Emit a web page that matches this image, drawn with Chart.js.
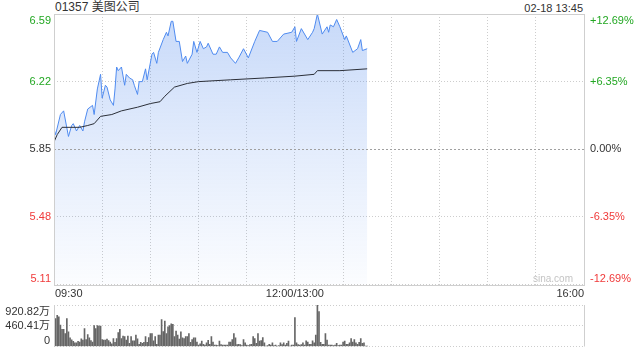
<!DOCTYPE html>
<html lang="zh-CN">
<head>
  <meta charset="utf-8">
  <title>01357 美图公司 分时走势</title>
  <script src="https://cdn.jsdelivr.net/npm/chart.js@4.4.3/dist/chart.umd.min.js"></script>
  <style>
    html, body {
      margin: 0;
      padding: 0;
      background: #fff;
    }

    body {
      position: relative;
      width: 640px;
      height: 360px;
      overflow: hidden;
      font-family: Arial, "Liberation Sans", "Noto Sans CJK SC", sans-serif;
    }

    #priceChart { position: absolute; left: 0; top: 0; }
    #volumeChart { position: absolute; left: 0; top: 300px; }

    .stock-title {
      position: absolute;
      left: 55px;
      top: 0;
      font-size: 12px;
      line-height: 14px;
      color: #333;
    }

    .stock-time {
      position: absolute;
      right: 57px;
      top: 1px;
      font-size: 11px;
      line-height: 14px;
      color: #333;
    }
  </style>
</head>
<body>
  <div class="stock-title">01357 美图公司</div>
  <div class="stock-time">02-18 13:45</div>
  <canvas id="priceChart" width="640" height="300"></canvas>
  <canvas id="volumeChart" width="640" height="60"></canvas>

  <script>
    // minutes since 09:30 (lunch break removed, 330 = 16:00)
    const priceMinutes = [0, 1, 4, 6, 9, 11, 12, 14, 16, 18, 19, 21, 24, 25, 27, 29, 30, 32, 33, 35,
      37, 38, 39, 40, 42, 44, 45, 47, 49, 50, 52, 53, 55, 57, 58, 61, 62, 64, 65, 68,
      70, 71, 73, 74, 76, 78, 80, 82, 83, 86, 87, 89, 91, 93, 95, 96, 99, 101, 103, 105,
      108, 110, 113, 115, 118, 121, 125, 128, 133, 136, 139, 143, 148, 150, 151, 154, 158, 161, 162, 164,
      167, 170, 171, 172, 174, 176, 178, 181, 182, 186, 189, 191, 192, 195];
    const prices = [5.96, 5.93, 6.04, 6.06, 5.92, 5.98, 5.99, 5.95, 5.98, 5.95, 6.00, 6.07, 6.09, 6.04, 6.18, 6.26, 6.13, 6.20, 6.19, 6.12,
      6.09, 6.18, 6.30, 6.28, 6.30, 6.20, 6.26, 6.24, 6.23, 6.20, 6.15, 6.22, 6.22, 6.29, 6.23, 6.37, 6.38, 6.32, 6.38, 6.45,
      6.49, 6.47, 6.55, 6.55, 6.44, 6.44, 6.33, 6.36, 6.32, 6.37, 6.44, 6.38, 6.44, 6.40, 6.41, 6.43, 6.37, 6.37, 6.41, 6.38,
      6.38, 6.35, 6.32, 6.35, 6.40, 6.35, 6.44, 6.50, 6.49, 6.44, 6.44, 6.48, 6.49, 6.52, 6.44, 6.51, 6.45, 6.49, 6.51, 6.59,
      6.48, 6.52, 6.49, 6.53, 6.52, 6.56, 6.52, 6.45, 6.47, 6.38, 6.40, 6.45, 6.39, 6.40];

    const avgMinutes = [0, 2, 5, 10, 16, 21, 25, 29, 36, 42, 52, 60, 66, 69, 75, 83, 90, 110, 131, 150, 162, 164, 178, 195];
    const avgPrices = [5.89, 5.93, 5.97, 5.97, 5.97, 5.98, 5.99, 6.03, 6.04, 6.06, 6.08, 6.10, 6.11, 6.14, 6.19, 6.21, 6.22, 6.23, 6.24, 6.25, 6.26, 6.28, 6.28, 6.29];

    // volume per minute, 万股 (index = minute)
    const volumes = [840, 622, 690, 660, 473, 380, 380, 286, 622, 323, 193, 150, 112, 81, 81, 112, 100, 168, 143, 398,
      155, 267, 193, 130, 100, 466, 398, 466, 454, 454, 155, 143, 143, 162, 130, 100, 62, 174, 93, 174,
      311, 380, 174, 230, 218, 143, 230, 68, 218, 124, 124, 255, 168, 50, 93, 68, 93, 218, 93, 199,
      286, 286, 124, 218, 50, 255, 255,
      597, 330, 566, 286, 435, 466, 504, 491, 218, 342, 255, 162, 323, 193, 174, 218, 218, 286, 93, 155,
      193, 193, 100, 31, 62, 118, 50, 31, 81, 137, 50, 218, 100, 31, 31, 19, 118, 44, 31, 31,
      31, 31, 100, 100, 155, 286, 193, 44, 50, 44, 19, 155, 81, 31, 19, 44, 50, 218, 174, 68,
      286, 118, 130, 199, 81, 6,
      19, 50, 31, 81, 19, 31, 6, 19, 81, 44, 81, 31, 68, 118, 8, 31, 30, 641, 81, 44,
      31, 44, 81, 31, 124, 100, 50, 50, 124, 81, 255, 920.82, 777, 93, 50, 50, 286, 143, 31, 31,
      31, 19, 31, 68, 19, 31, 31, 100, 118, 50, 50, 81, 174, 100, 155, 81, 50, 93, 174, 68,
      81, 6, 6];

    const priceTicks = [6.59, 6.22, 5.85, 5.48, 5.11];
    const priceTickLabels = ['6.59', '6.22', '5.85', '5.48', '5.11'];
    const pctTickLabels = ['+12.69%', '+6.35%', '0.00%', '-6.35%', '-12.69%'];
    const volumeTicks = [920.82, 460.41, 0];
    const volumeTickLabels = ['920.82万', '460.41万', '0'];
    const timeTicks = [0, 150, 330];
    const timeTickLabels = ['09:30', '12:00/13:00', '16:00'];
    const prevClose = 5.85;

    const GREEN = '#22a722';
    const RED = '#f03a3a';
    const GREY = '#333';
    const FONT = '11px Arial, "Liberation Sans", sans-serif';

    function tickColor(v) {
      if (v > prevClose) return GREEN;
      if (v < prevClose) return RED;
      return GREY;
    }

    // draws side labels; first label hangs below its line, last sits above it
    function drawSideLabels(ctx, scale, values, labels, x, align, colorFn) {
      ctx.font = FONT;
      ctx.textAlign = align;
      values.forEach((v, i) => {
        const py = scale.getPixelForValue(v);
        if (i === 0) {
          ctx.textBaseline = 'top';
        } else if (i === values.length - 1) {
          ctx.textBaseline = 'bottom';
        } else {
          ctx.textBaseline = 'middle';
        }
        ctx.fillStyle = colorFn ? colorFn(v) : GREY;
        ctx.fillText(labels[i], x, i === 0 ? py + 1 : py);
      });
    }

    const priceDecor = {
      id: 'priceDecor',
      afterDraw(chart) {
        const { ctx, chartArea: a, scales } = chart;
        ctx.save();

        // previous close reference line
        const yPrev = Math.round(scales.y.getPixelForValue(prevClose)) + 0.5;
        ctx.strokeStyle = '#a0a0a0';
        ctx.lineWidth = 1;
        ctx.setLineDash([2, 2]);
        ctx.beginPath();
        ctx.moveTo(a.left, yPrev);
        ctx.lineTo(a.right, yPrev);
        ctx.stroke();
        ctx.setLineDash([]);

        // frame
        ctx.strokeStyle = '#cfcfcf';
        ctx.strokeRect(Math.round(a.left) + 0.5, Math.round(a.top) + 0.5,
          Math.round(a.right - a.left), Math.round(a.bottom - a.top));

        drawSideLabels(ctx, scales.y, priceTicks, priceTickLabels, a.left - 3, 'right', tickColor);
        drawSideLabels(ctx, scales.y, priceTicks, pctTickLabels, a.right + 6, 'left', tickColor);

        // time labels under the chart
        ctx.font = FONT;
        ctx.fillStyle = GREY;
        ctx.textBaseline = 'middle';
        timeTicks.forEach((m, i) => {
          const px = scales.x.getPixelForValue(m);
          ctx.textAlign = i === 0 ? 'left' : (i === timeTicks.length - 1 ? 'right' : 'center');
          ctx.fillText(timeTickLabels[i], i === 0 ? px + 1 : px, a.bottom + 9);
        });

        // watermark
        ctx.font = '10px Arial, "Liberation Sans", sans-serif';
        ctx.fillStyle = '#c4c4c4';
        ctx.textAlign = 'center';
        ctx.textBaseline = 'middle';
        ctx.fillText('sina.com', a.right - 31, a.bottom - 5);

        ctx.restore();
      }
    };

    const volumeDecor = {
      id: 'volumeDecor',
      afterDraw(chart) {
        const { ctx, chartArea: a, scales } = chart;
        ctx.save();
        ctx.strokeStyle = '#cfcfcf';
        ctx.lineWidth = 1;
        ctx.beginPath();
        ctx.moveTo(Math.round(a.left) + 0.5, a.top);
        ctx.lineTo(Math.round(a.left) + 0.5, a.bottom);
        ctx.moveTo(Math.round(a.right) + 0.5, a.top);
        ctx.lineTo(Math.round(a.right) + 0.5, a.bottom);
        ctx.stroke();
        drawSideLabels(ctx, scales.y, volumeTicks, volumeTickLabels, a.left - 4, 'right', null);
        ctx.restore();
      }
    };

    const timeGridTicks = [];
    for (let m = 0; m <= 330; m += 30) timeGridTicks.push({ value: m });

    new Chart(document.getElementById('priceChart'), {
      type: 'line',
      data: {
        datasets: [
          {
            label: '均价',
            data: avgMinutes.map((m, i) => ({ x: m, y: avgPrices[i] })),
            borderColor: '#2b2f38',
            borderWidth: 1,
            pointRadius: 0,
            fill: false,
            tension: 0
          },
          {
            label: '价格',
            data: priceMinutes.map((m, i) => ({ x: m, y: prices[i] })),
            borderColor: '#4f8bf0',
            borderWidth: 1,
            pointRadius: 0,
            tension: 0,
            fill: 'start',
            backgroundColor(c) {
              const a = c.chart.chartArea;
              if (!a) return 'rgba(70,130,235,0.2)';
              const g = c.chart.ctx.createLinearGradient(0, a.top, 0, a.bottom);
              g.addColorStop(0, 'rgba(70,130,235,0.30)');
              g.addColorStop(0.5, 'rgba(70,130,235,0.15)');
              g.addColorStop(1, 'rgba(70,130,235,0.02)');
              return g;
            }
          }
        ]
      },
      options: {
        responsive: false,
        animation: false,
        layout: { padding: { left: 54, right: 56, top: 14, bottom: 15.5 } },
        plugins: { legend: { display: false }, tooltip: { enabled: false } },
        scales: {
          x: {
            type: 'linear',
            min: 0,
            max: 330,
            afterBuildTicks: s => { s.ticks = timeGridTicks.slice(); },
            ticks: { display: false },
            border: { display: false, dash: [1, 2] },
            grid: { color: '#cdcdcd', drawTicks: false, tickLength: 0 }
          },
          y: {
            min: 5.11,
            max: 6.59,
            afterBuildTicks: s => { s.ticks = priceTicks.map(v => ({ value: v })); },
            ticks: { display: false },
            border: { display: false, dash: [1, 2] },
            grid: {
              color: c => (c.tick && c.tick.value === prevClose ? 'rgba(0,0,0,0)' : '#cdcdcd'),
              drawTicks: false,
              tickLength: 0
            }
          }
        }
      },
      plugins: [priceDecor]
    });

    new Chart(document.getElementById('volumeChart'), {
      type: 'bar',
      data: {
        datasets: [{
          label: '成交量',
          data: volumes.map((v, i) => ({ x: i, y: v })),
          backgroundColor: '#666',
          barThickness: 1,
          borderWidth: 0
        }]
      },
      options: {
        responsive: false,
        animation: false,
        layout: { padding: { left: 54, right: 56, top: 5, bottom: 5.5 } },
        plugins: { legend: { display: false }, tooltip: { enabled: false } },
        scales: {
          x: {
            type: 'linear',
            min: 0,
            max: 330,
            offset: false,
            ticks: { display: false },
            border: { display: false },
            grid: { display: false }
          },
          y: {
            min: 0,
            max: 920.82,
            afterBuildTicks: s => { s.ticks = volumeTicks.map(v => ({ value: v })); },
            ticks: { display: false },
            border: { display: false, dash: [1, 2] },
            grid: { color: '#cdcdcd', drawTicks: false, tickLength: 0 }
          }
        }
      },
      plugins: [volumeDecor]
    });
  </script>
</body>
</html>
